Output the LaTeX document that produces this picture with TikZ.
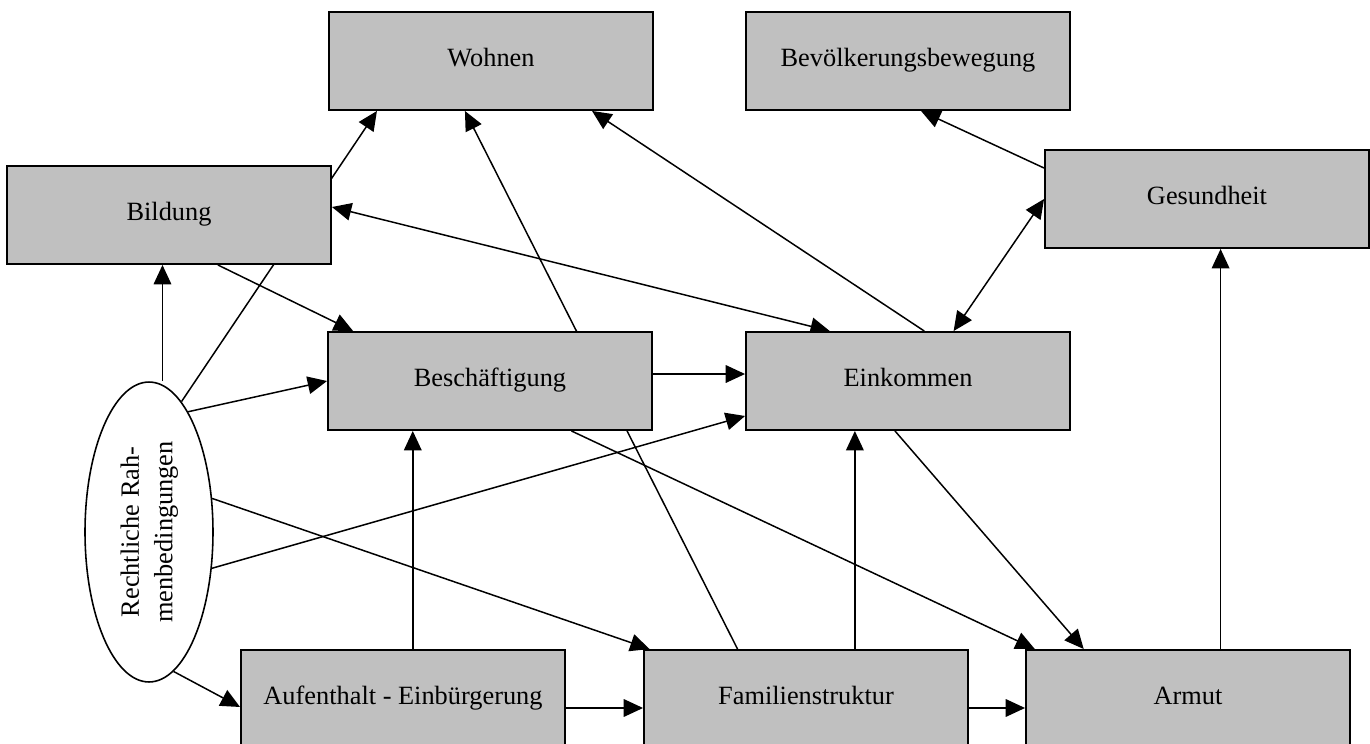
\documentclass[tikz,border=0pt]{standalone}
\usepackage{fontspec}
\setmainfont{Liberation Serif}
\usepackage{graphicx}
\usetikzlibrary{arrows.meta,calc,shapes.geometric,backgrounds}
\definecolor{boxgray}{RGB}{192,192,192}
\tikzset{
  box/.style={draw, line width=1.1pt, fill=boxgray, minimum width=6.48cm,
    minimum height=1.96cm, inner sep=0pt, text height=10.5pt, text depth=4pt,
    font=\fontsize{15pt}{18pt}\selectfont},
  arr/.style={line width=0.85pt, -{Triangle[length=11pt,width=10pt]}},
  darr/.style={line width=0.85pt, {Triangle[length=11pt,width=10pt]}-{Triangle[length=11pt,width=10pt]}}
}
\begin{document}
\begin{tikzpicture}[x=0.02cm, y=-0.02cm]
\useasboundingbox (0,0) rectangle (1370,744);

% top row
\node[box] (wohnen)  at (491,61) {Wohnen};
\node[box] (bevoelk) at (908,61) {Bevölkerungsbewegung};
% middle rows
\node[box] (bildung)   at (169,215)  {Bildung};
\node[box] (gesund)    at (1207,199) {Gesundheit};
\node[box] (besch)     at (490,381)  {Beschäftigung};
\node[box] (einkommen) at (908,381)  {Einkommen};
% bottom row
\node[box] (aufenthalt) at (403,699)  {Aufenthalt - Einbürgerung};
\node[box] (familie)    at (806,699)  {Familienstruktur};
\node[box] (armut)      at (1188,699) {Armut};

% legal frame
\node[draw, ellipse, line width=0.9pt, fill=white, minimum width=2.56cm,
  minimum height=6cm, inner sep=0pt, font=\fontsize{15pt}{19pt}\selectfont]
  (rahmen) at (149,532)
  {\rotatebox{90}{\begin{tabular}{@{}c@{}}Rechtliche Rah-\\menbedingungen\end{tabular}}};

% arrows (behind the boxes)
\begin{scope}[on background layer]
\coordinate (b1) at ($(bildung.south west)!0.48!(bildung.south east)$);
\coordinate (g1) at ($(armut.north west)!0.60!(armut.north east)$);
\coordinate (a2) at ($(aufenthalt.north west)!0.53!(aufenthalt.north east)$);
\coordinate (a3) at ($(aufenthalt.north east)!0.59!(aufenthalt.south east)$);
\coordinate (b2) at ($(besch.north east)!0.43!(besch.south east)$);
\coordinate (f1) at ($(familie.north west)!0.65!(familie.north east)$);
\coordinate (f2) at ($(familie.north east)!0.59!(familie.south east)$);

% into Wohnen
\draw[arr] (rahmen.76) -- ($(wohnen.south west)!0.15!(wohnen.south east)$);
\draw[arr] ($(familie.north west)!0.29!(familie.north east)$) -- ($(wohnen.south west)!0.42!(wohnen.south east)$);
\draw[arr] ($(einkommen.north west)!0.55!(einkommen.north east)$) -- ($(wohnen.south west)!0.81!(wohnen.south east)$);
% both ways
\draw[darr] ($(bildung.north east)!0.42!(bildung.south east)$) -- ($(einkommen.north west)!0.26!(einkommen.north east)$);
\draw[darr] ($(einkommen.north west)!0.64!(einkommen.north east)$) -- (gesund.west);
% health
\draw[arr] ($(gesund.north west)!0.19!(gesund.south west)$) -- ($(bevoelk.south west)!0.54!(bevoelk.south east)$);
\draw[arr] (g1) -- (g1 |- gesund.south);
% education
\draw[arr] ($(bildung.south west)!0.65!(bildung.south east)$) -- ($(besch.north west)!0.08!(besch.north east)$);
\draw[arr] (b1 |- rahmen.north) -- (b1);
% from the legal frame
\draw[arr] (rahmen.72) -- (besch.west);
\draw[arr] (rahmen.-30) -- ($(einkommen.north west)!0.85!(einkommen.south west)$);
\draw[arr] (rahmen.28) -- ($(familie.north west)!0.02!(familie.north east)$);
\draw[arr] (rahmen.-80) -- ($(aufenthalt.north west)!0.58!(aufenthalt.south west)$);
% residence, work, family
\draw[arr] (a2) -- (a2 |- besch.south);
\draw[arr] (a3) -- (a3 -| familie.west);
\draw[arr] (b2) -- (b2 -| einkommen.west);
\draw[arr] (f1) -- (f1 |- einkommen.south);
\draw[arr] (f2) -- (f2 -| armut.west);
% poverty
\draw[arr] ($(einkommen.south west)!0.46!(einkommen.south east)$) -- ($(armut.north west)!0.18!(armut.north east)$);
\draw[arr] ($(besch.south west)!0.75!(besch.south east)$) -- ($(armut.north west)!0.03!(armut.north east)$);
\end{scope}

\end{tikzpicture}
\end{document}
